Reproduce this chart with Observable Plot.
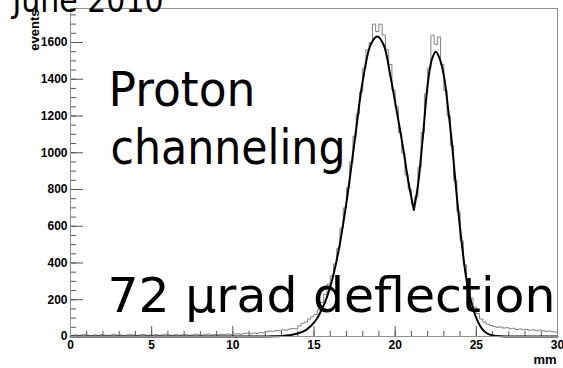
<!DOCTYPE html>
<html><head><meta charset="utf-8">
<script src="https://cdn.jsdelivr.net/npm/d3@7"></script>
<script src="https://cdn.jsdelivr.net/npm/@observablehq/plot@0.6"></script>
<style>body{margin:0;background:#fff;overflow:hidden}</style>
</head><body><div id="chart"></div>
<script>
// ---- data ----
const binWidth = 0.2; // mm
const counts = [
  6,9,5,8,11,7,4,9,6,10, 8,5,7,12,6,9,4,8,10,7,
  5,9,11,6,8,7,10,5,9,12, 8,6,10,7,9,11,5,8,12,9,
  7,10,13,8,11,9,12,10,14,11,
  13,15,12,16,18,14,19,17,22,20,
  26,30,28,33,31,36,34,40,44,42,
  58,72,78,95,108,
  120,145,185,230,285,
  330,395,480,590,700,
  810,950,1090,1210,1330,
  1460,1560,1600,1700,1660,
  1700,1640,1560,1480,1340,
  1250,1110,1000,880,800,
  720,760,920,1110,1320,
  1460,1640,1590,1630,1480,
  1340,1200,1040,850,680,
  520,390,280,210,160,
  125,95,78,68,60,
  55,50,52,46,48,
  42,45,38,41,36,
  38,34,37,31,35,
  32,28,30,26,24
];
const fitLeftX = [0, 10, 12, 12.5, 13, 13.5, 14, 14.5, 15, 15.5, 16, 16.5, 17, 17.5, 18, 18.5, 18.9, 19.3, 19.7, 20.1, 20.5, 20.8, 21.15];
const fitLeftY = [0, 0, 0.5, 1, 3, 7, 16, 35, 75, 150, 270, 460, 730, 1060, 1390, 1590, 1633, 1585, 1420, 1225, 1020, 850, 690];
const fitRightX = [21.15, 21.4, 21.7, 22.0, 22.25, 22.5, 22.75, 23.0, 23.25, 23.5, 23.8, 24.1, 24.4, 24.7, 25.0, 25.35, 25.7, 26.0, 26.5, 27, 30];
const fitRightY = [690, 820, 1080, 1370, 1505, 1550, 1510, 1420, 1250, 1050, 760, 510, 305, 182, 100, 42, 15, 6, 1, 0, 0];
const xTicks = [0, 5, 10, 15, 20, 25, 30];
const yTicks = [0, 200, 400, 600, 800, 1000, 1200, 1400, 1600];
const xMinorTicks = d3.range(0, 31, 1);
const yMinorTicks = d3.range(0, 1751, 50);
const titleText = "June 2010";
const note1 = "Proton";
const note2 = "channeling";
const note3 = "72 μrad deflection";
const yLabel = "events";
const xLabel = "mm";

// ---- tables for the library ----
const hist = counts.map((c, i) => ({x: i * binWidth, y: c}));
hist.push({x: counts.length * binWidth, y: counts[counts.length - 1]});
const fit = [
  ...fitLeftX.map((x, i) => ({x, y: fitLeftY[i], part: "a"})),
  ...fitRightX.map((x, i) => ({x, y: fitRightY[i], part: "b"}))
];

const W = 563, H = 368, mL = 70, mR = 6, mT = 8, mB = 32;
const pw = W - mL - mR, ph = H - mT - mB;
const axisFont = "Liberation Sans, Arial, sans-serif";
const bigFont = "DejaVu Sans, sans-serif";
const noteWidths = {[titleText]: 151, [note1]: 147, [note2]: 235, [note3]: 448};
const labelSizes = {[yLabel]: 13, [xLabel]: 13};

const chart = Plot.plot({
  width: W, height: H,
  marginLeft: mL, marginRight: mR, marginTop: mT, marginBottom: mB,
  style: {fontFamily: axisFont, fontSize: "12px", fontWeight: "bold", background: "#fff", overflow: "visible"},
  x: {domain: [0, 30]},
  y: {domain: [0, 1785]},
  marks: [
    Plot.tickY(yMinorTicks, {y: d => d, insetRight: pw - 6, stroke: "#555"}),
    Plot.tickY(yTicks, {y: d => d, insetRight: pw - 13, stroke: "#555"}),
    Plot.tickX(xMinorTicks, {x: d => d, insetTop: ph - 5, stroke: "#555"}),
    Plot.tickX(xTicks, {x: d => d, insetTop: ph - 10, stroke: "#555"}),
    Plot.axisY({ticks: yTicks, tickSize: 0, tickPadding: 3, tickFormat: d => String(d), label: null}),
    Plot.axisX({ticks: xTicks, tickSize: 0, tickPadding: 4, tickFormat: d => String(d), label: null}),
    Plot.line(hist, {x: "x", y: "y", curve: "step-after", stroke: "#808080", strokeWidth: 1}),
    Plot.line(fit, {x: "x", y: "y", z: "part", curve: "catmull-rom", stroke: "#000", strokeWidth: 2}),
    Plot.frame({stroke: "#909090"}),
    Plot.text([yLabel], {text: d => d, frameAnchor: "top-left", dx: -36, dy: 1, rotate: -90, textAnchor: "end", lineAnchor: "middle", fontSize: 13, fontWeight: "bold", fill: "#000"}),
    Plot.text([xLabel], {text: d => d, frameAnchor: "bottom-right", dx: -1, dy: 23, textAnchor: "end", lineAnchor: "middle", fontSize: 13, fontWeight: "bold", fill: "#000"}),
    Plot.text([titleText], {text: d => d, frameAnchor: "top-left", dx: -58, dy: 3, textAnchor: "start", lineAnchor: "bottom", fontSize: 33, fontWeight: "normal", fontFamily: bigFont, fill: "#000"}),
    Plot.text([note1], {text: d => d, frameAnchor: "top-left", dx: 38, dy: 97, textAnchor: "start", lineAnchor: "bottom", fontSize: 48, fontWeight: "normal", fontFamily: bigFont, fill: "#000"}),
    Plot.text([note2], {text: d => d, frameAnchor: "top-left", dx: 40, dy: 155, textAnchor: "start", lineAnchor: "bottom", fontSize: 48, fontWeight: "normal", fontFamily: bigFont, fill: "#000"}),
    Plot.text([note3], {text: d => d, frameAnchor: "top-left", dx: 37, dy: 303, textAnchor: "start", lineAnchor: "bottom", fontSize: 48, fontWeight: "normal", fontFamily: bigFont, fill: "#000"})
  ]
});
const root = d3.select(chart);
root.selectAll("g[aria-label$='tick label'] text, g[aria-label$='tick label']")
  .attr("font-size", 12).attr("font-weight", "bold").attr("font-family", axisFont).attr("fill", "#000");
root.selectAll("text").each(function() {
  const t = this.textContent;
  const w = noteWidths[t];
  if (w) { this.setAttribute("textLength", w); this.setAttribute("lengthAdjust", "spacingAndGlyphs"); }
  const s = labelSizes[t];
  if (s) { this.style.fontSize = s + "px"; this.style.fontWeight = "bold"; this.style.fontFamily = axisFont; }
});
document.getElementById("chart").appendChild(chart);
</script>
</body></html>
